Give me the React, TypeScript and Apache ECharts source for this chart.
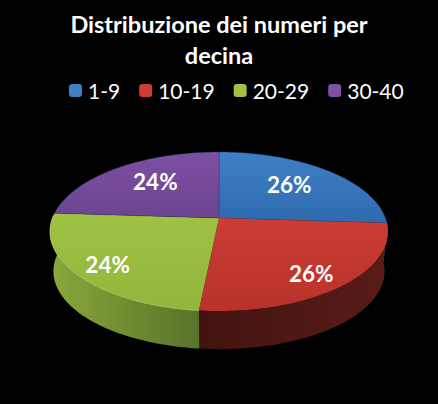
import React, { useEffect, useRef } from "react";
import * as echarts from "echarts";

const titleText = "Distribuzione dei numeri per\ndecina";
const categories = ["1-9", "10-19", "20-29", "30-40"];
const values = [26, 25.6, 24.4, 24];
const faceTop = ["#3f7fc6", "#cb3d35", "#9fc243", "#7c50a2"];
const faceBottom = ["#2f6aae", "#b8322a", "#93b53c", "#6c4490"];
const sideLight = ["#2f6aae", "#5a1c17", "#8aa83a", "#6c4490"];
const sideDark = ["#2f6aae", "#421310", "#587229", "#6c4490"];
const labelRadius = [0.62, 0.77, 0.8, 0.6];
const labelShift = [-3, 5, 3, -5];

const CX = 219, CY = 218, A = 166.5, B = 77.2, P = 0.17, DEPTH = 40, SHRINK = 0.98;
const rad = (t: number) => (t * Math.PI) / 180;
const project = (theta: number, r: number, s = 1, dy = 0): number[] => {
  const u = r * Math.sin(rad(theta));
  const v = -r * Math.cos(rad(theta));
  const w = 1 - P * v;
  return [CX + (A * s * u) / w, CY + dy + (B * s * v) / w];
};
const arc = (from: number, to: number, s = 1, dy = 0) => {
  const pts: number[][] = [];
  const n = Math.max(2, Math.ceil(Math.abs(to - from)));
  for (let i = 0; i <= n; i++) pts.push(project(from + ((to - from) * i) / n, 1, s, dy));
  return pts;
};

export default function App() {
  const ref = useRef<HTMLDivElement>(null);
  useEffect(() => {
    document.body.style.margin = "0";
    document.body.style.background = "#000";
    const chart = echarts.init(ref.current!, undefined, { renderer: "svg" });
    const total = values.reduce((a, b) => a + b, 0);
    let cum = 0;
    const ranges = values.map((v) => {
      const start = (cum / total) * 360;
      cum += v;
      return [start, (cum / total) * 360];
    });
    const series = categories.map((name, i) => ({
      type: "custom",
      name,
      coordinateSystem: "none",
      data: [[values[i]]],
      itemStyle: { color: faceTop[i] },
      renderItem: () => {
        const [st, en] = ranges[i];
        const children: any[] = [];
        const sStart = Math.max(st, 92);
        const sEnd = Math.min(en, 272);
        if (sEnd > sStart) {
          const pts = arc(sStart, sEnd).concat(arc(sEnd, sStart, SHRINK, DEPTH));
          children.push({
            type: "polygon",
            shape: { points: pts },
            style: {
              fill: new echarts.graphic.LinearGradient(0, 0, 1, 0, [
                { offset: 0, color: i === 2 ? sideLight[i] : sideDark[i] },
                { offset: 1, color: i === 2 ? sideDark[i] : sideLight[i] },
              ]),
            },
          });
        }
        const mid = (st + en) / 2;
        const c = project(mid, labelRadius[i]);
        children.push({
          type: "polygon",
          shape: { points: [[CX, CY], ...arc(st, en)] },
          style: {
            fill: new echarts.graphic.LinearGradient(0, 0, 0, 1, [
              { offset: 0, color: faceTop[i] },
              { offset: 1, color: faceBottom[i] },
            ]),
            stroke: i === 3 || i === 0 ? "#1f3a68" : "none",
            lineWidth: i === 3 || i === 0 ? 0.4 : 0,
          },
        });
        if (i === 2) {
          children.push({
            type: "polyline",
            shape: { points: arc(st, sEnd) },
            style: { stroke: "#b9d468", lineWidth: 0.8, fill: "none" },
          });
        }
        children.push({
          type: "text",
          z2: 10,
          style: {
            x: c[0],
            y: c[1] + labelShift[i],
            text: `${Math.round((values[i] / total) * 100)}%`,
            fill: "#fff",
            font: "bold 22.5px Lato",
            align: "center",
            verticalAlign: "middle",
          },
        });
        return { type: "group", children };
      },
    }));
    chart.setOption({
      animation: false,
      backgroundColor: "#000",
      title: {
        text: titleText,
        left: 219,
        top: 8,
        padding: 0,
        textAlign: "center",
        textStyle: { color: "#fff", fontFamily: "Lato", fontWeight: "bold", fontSize: 23.5, lineHeight: 31 },
      },
      legend: {
        top: 80,
        left: 69,
        padding: 0,
        itemWidth: 13,
        itemHeight: 13,
        itemGap: 19,
        icon: "roundRect",
        data: categories,
        textStyle: { color: "#fff", fontFamily: "Lato", fontSize: 21, padding: [0, 0, 0, 1] },
      },
      series,
    });
    return () => chart.dispose();
  }, []);
  return <div ref={ref} style={{ width: 438, height: 404, position: "absolute", left: 0, top: 0 }} />;
}
